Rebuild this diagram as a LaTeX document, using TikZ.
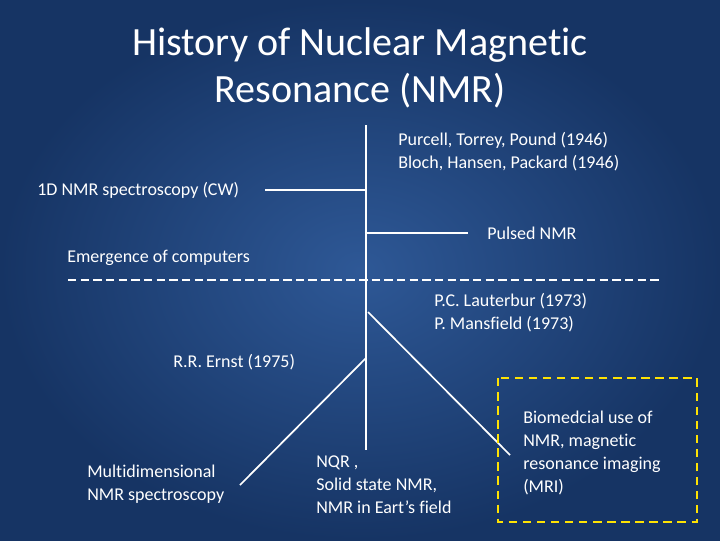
\documentclass[tikz,border=0pt]{standalone}
\usepackage{fontspec}
\setmainfont{Carlito}[Ligatures=NoCommon]
\tikzset{
  lbl/.style={text=white, font=\fontsize{12.8}{16.5}\selectfont, anchor=west, inner sep=0pt, align=left},
  tline/.style={white, line width=1.2pt},
}
\begin{document}
\begin{tikzpicture}[x=0.025cm, y=-0.025cm]
		% background
		\shade[inner color={rgb,255:red,46;green,88;blue,150}, outer color={rgb,255:red,22;green,52;blue,100}] (0,0) rectangle (720,540);
		\useasboundingbox (0,0) rectangle (720,540);

		% title
		\node[text=white, font=\fontsize{28.5}{33}\selectfont, align=center] (title) at (360,68) {History of Nuclear Magnetic\\Resonance (NMR)};

		% timeline points
		\coordinate (top) at (366,125);
		\coordinate (bottom) at (366,450);
		\coordinate (cw) at (366,190);
		\coordinate (cwend) at (265,190);
		\coordinate (pulse) at (366,233);
		\coordinate (pulseend) at (468,233);
		\coordinate (mri) at (368,312);
		\coordinate (mriend) at (510,455);
		\coordinate (ernst) at (366,358);
		\coordinate (ernstend) at (240,485);
		\coordinate (dashL) at (68,280);
		\coordinate (dashR) at (660,280);

		\draw[tline] (top) -- (bottom);
		\draw[tline] (cw) -- (cwend);
		\draw[tline] (pulse) -- (pulseend);
		\draw[tline] (mri) -- (mriend);
		\draw[tline] (ernst) -- (ernstend);
		\draw[white, line width=1.2pt, dash pattern=on 6pt off 3pt] (dashL) -- (dashR);

		% yellow box
		\draw[yellow!85!orange, line width=2pt, dash pattern=on 6pt off 4pt] (498,378) rectangle (697,522);

		% labels
		\node[lbl] (purcell) at (398,152) {Purcell, Torrey, Pound (1946)\\Bloch, Hansen, Packard (1946)};
		\node[lbl] (cwtext) at (37,190) {1D NMR spectroscopy (CW)};
		\node[lbl] (pulsed) at (487,233) {Pulsed NMR};
		\node[lbl] (comp) at (67,258) {Emergence of computers};
		\node[lbl] (lauter) at (434,313) {P.C. Lauterbur (1973)\\P. Mansfield (1973)};
		\node[lbl] (ernsttext) at (173,362) {R.R. Ernst (1975)};
		\node[lbl] (multi) at (87,484) {Multidimensional\\NMR spectroscopy};
		\node[lbl] (nqr) at (316,485) {NQR ,\\Solid state NMR,\\NMR in Eart’s field};
		\node[lbl] (bio) at (523,453) {Biomedcial use of\\NMR, magnetic\\resonance imaging\\(MRI)};
	\end{tikzpicture}
\end{document}
